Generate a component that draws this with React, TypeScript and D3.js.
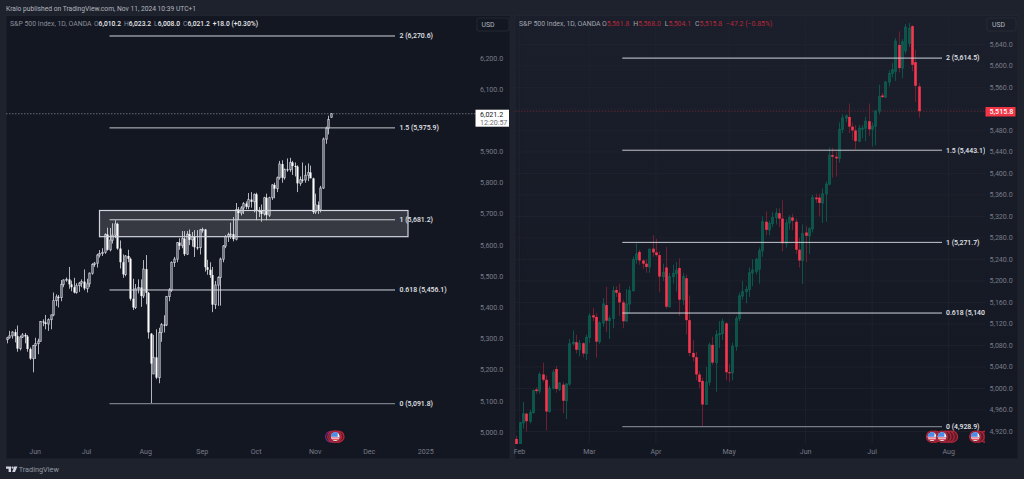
import React from 'react';
import * as d3 from 'd3';

const width = 1024;
const height = 479;
const font = 'Roboto, sans-serif';

// left chart, one entry per daily bar from May 17 to Nov 11
const leftOpen = [5297,5303,5309,5321,5308,5268,5305,5312,5307,5267,5236,5278,5284,5292,5355,5352,5347,5361,5376,5422,5434,5432,5474,5488,5490,5474,5465,5448,5470,5478,5483,5461,5476,5510,5538,5542,5568,5573,5577,5634,5585,5616,5632,5668,5589,5545,5506,5565,5556,5428,5400,5460,5464,5437,5523,5447,5316,5187,5240,5175,5320,5345,5344,5435,5456,5544,5555,5608,5598,5621,5571,5635,5617,5626,5593,5592,5649,5650,5529,5521,5504,5409,5472,5496,5555,5597,5627,5634,5635,5619,5714,5703,5719,5733,5723,5746,5739,5763,5709,5710,5700,5752,5696,5752,5793,5781,5816,5860,5816,5843,5842,5865,5854,5852,5798,5810,5809,5824,5833,5814,5706,5729,5713,5783,5940,5975,6010.2];
const leftHigh = [5306,5325,5324,5330,5342,5310,5318,5318,5312,5272,5280,5303,5300,5356,5362,5376,5365,5377,5448,5442,5440,5488,5490,5496,5530,5486,5495,5478,5482,5490,5522,5492,5512,5542,5546,5572,5584,5590,5638,5656,5655,5670,5680,5672,5615,5570,5568,5585,5560,5492,5475,5490,5490,5552,5568,5450,5318,5312,5330,5335,5350,5375,5437,5462,5548,5562,5610,5622,5645,5645,5645,5650,5642,5648,5648,5652,5656,5652,5553,5545,5530,5485,5500,5560,5600,5632,5640,5672,5690,5735,5722,5725,5738,5740,5767,5770,5765,5768,5722,5730,5755,5765,5755,5795,5800,5820,5870,5872,5845,5878,5880,5870,5865,5856,5820,5865,5855,5862,5855,5816,5765,5740,5790,5945,5980,6015,6023.2];
const leftLow = [5285,5300,5300,5288,5258,5262,5302,5285,5258,5232,5192,5235,5250,5290,5340,5330,5325,5330,5372,5405,5400,5420,5465,5482,5460,5452,5445,5444,5450,5465,5455,5448,5465,5505,5530,5528,5560,5565,5572,5582,5580,5605,5622,5585,5525,5495,5500,5545,5422,5392,5395,5445,5402,5430,5410,5300,5091.8,5190,5170,5157,5290,5320,5340,5420,5450,5530,5545,5585,5590,5565,5568,5600,5595,5562,5585,5570,5640,5515,5505,5495,5385,5395,5405,5406,5545,5590,5610,5620,5612,5615,5680,5695,5700,5715,5715,5720,5705,5680,5690,5675,5695,5680,5690,5745,5750,5770,5810,5800,5810,5835,5835,5825,5820,5770,5790,5800,5800,5805,5815,5700,5700,5700,5705,5780,5925,5955,6008];
const leftClose = [5303,5309,5321,5308,5268,5305,5312,5307,5267,5236,5278,5284,5292,5355,5352,5347,5361,5376,5422,5434,5432,5474,5488,5490,5474,5465,5448,5470,5478,5483,5461,5476,5510,5538,5542,5568,5573,5577,5634,5585,5616,5632,5668,5589,5545,5506,5565,5556,5428,5400,5460,5464,5437,5523,5447,5320,5220,5240,5175,5320,5345,5344,5435,5456,5544,5555,5608,5598,5621,5571,5635,5617,5626,5593,5592,5649,5650,5529,5521,5504,5409,5472,5496,5555,5597,5627,5634,5635,5619,5714,5703,5719,5733,5723,5746,5739,5763,5709,5710,5700,5752,5696,5752,5793,5781,5816,5860,5816,5843,5842,5865,5854,5852,5798,5810,5809,5824,5833,5814,5706,5729,5713,5783,5940,5975,6003,6021.2];

// right chart, one entry per daily bar from Jan 31 to Jul 19
const rightOpen = [4906,4880,4936,4953,4939,4955,4998,4995,5026,5016,4957,5000,5036,4998,5007,4977,5008,5083,5086,5072,5084,5065,5095,5136,5133,5087,5122,5155,5126,5130,5183,5178,5160,5125,5157,5182,5240,5254,5238,5232,5226,5260,5253,5248,5208,5225,5152,5208,5214,5224,5165,5205,5127,5066,5058,5026,5014,4970,5012,5081,5048,5100,5102,5121,5030,5029,5078,5130,5172,5180,5184,5215,5218,5222,5256,5310,5295,5307,5318,5326,5316,5270,5308,5318,5310,5258,5238,5290,5284,5297,5355,5355,5345,5362,5380,5434,5431,5428,5482,5503,5505,5487,5480,5460,5484,5484,5497,5482,5488,5516,5545,5542,5570,5586,5590,5639,5596,5628,5642,5674,5607,5561.8];
const rightHigh = [4912,4938,4975,4955,4960,4998,5002,5030,5048,5024,5005,5035,5042,5012,5012,5010,5092,5108,5100,5090,5086,5100,5140,5150,5140,5125,5168,5189,5135,5190,5190,5195,5165,5185,5190,5245,5270,5258,5240,5240,5260,5285,5278,5255,5232,5263,5215,5230,5235,5242,5215,5212,5173,5090,5068,5032,5020,5040,5085,5096,5108,5125,5130,5124,5045,5085,5135,5178,5200,5190,5225,5240,5243,5262,5320,5329,5312,5328,5335,5335,5350,5315,5322,5325,5316,5280,5305,5302,5300,5360,5362,5362,5372,5385,5448,5448,5440,5495,5510,5510,5530,5495,5490,5490,5490,5505,5530,5495,5518,5565,5550,5572,5592,5605,5652,5664,5650,5678,5680,5676,5630,5568];
const rightLow = [4880,4880,4925,4920,4935,4953,4990,4990,5012,4922,4955,4998,4992,4995,4954,4943,5005,5080,5065,5060,5058,5053,5085,5125,5057,5083,5115,5105,5092,5112,5170,5135,5112,5125,5140,5180,5232,5230,5222,5215,5215,5245,5245,5179,5200,5148,5150,5195,5180,5135,5155,5100,5060,5050,5015,5000,4928.9,4970,5005,5044,4994,5075,5090,5015,5012,5015,5070,5125,5165,5158,5170,5190,5212,5195,5245,5285,5285,5300,5305,5300,5255,5262,5295,5295,5250,5225,5194,5235,5250,5290,5345,5320,5308,5310,5378,5392,5394,5420,5475,5495,5475,5462,5445,5458,5465,5460,5470,5450,5452,5510,5540,5540,5562,5578,5572,5588,5577,5622,5635,5590,5533,5504.1];
const rightClose = [4880,4936,4953,4939,4955,4996,4995,5026,5016,4957,5000,5030,4999,5010,4977,5008,5083,5086,5072,5084,5065,5095,5135,5132,5087,5122,5157,5126,5130,5182,5178,5160,5125,5157,5182,5240,5250,5238,5232,5226,5259,5253,5248,5208,5216,5152,5208,5214,5220,5165,5208,5127,5066,5058,5026,5012,4970,5012,5081,5048,5100,5102,5125,5030,5029,5078,5130,5172,5180,5184,5215,5220,5240,5256,5310,5295,5307,5318,5326,5316,5270,5308,5318,5312,5258,5238,5288,5284,5297,5355,5352,5345,5362,5380,5434,5431,5428,5482,5503,5507,5487,5480,5460,5484,5484,5497,5482,5488,5516,5543,5542,5570,5586,5593,5646,5596,5645,5672,5670,5602,5563,5515.8];

const leftPriceTicks = [6200,6100,5900,5800,5700,5600,5500,5400,5300,5200,5100,5000];
const rightPriceTicks = [5640,5600,5560,5480,5440,5400,5360,5320,5280,5240,5200,5160,5120,5080,5040,5000,4960,4920];

const leftMonths = ['Jun','Jul','Aug','Sep','Oct','Nov','Dec','2025'];
const leftMonthBars = [11,31,54,76,97,120,141,163];
const rightMonths = ['Feb','Mar','Apr','May','Jun','Jul','Aug'];
const rightMonthBars = [1,22,42,64,87,107,130];

const leftFibLevels = ['2','1.5','1','0.618','0'];
const leftFibPrices = [6270.6,5975.9,5681.2,5456.1,5091.8];
const rightFibLevels = ['2','1.5','1','0.618','0'];
const rightFibPrices = [5614.5,5443.1,5271.7,5140.2,4928.9];
const fibColors = ['#d1d4dc','#c4c6cc','#c9cbd1','#d1d4dc','#787b86'];

const zoneTop = 5711;
const zoneBottom = 5627;

// event markers, placed by bar number
const leftRingBars = [127,128,129];
const leftFlagBars = [127];
const rightRingBars = [126,129,130,131,139,141];
const rightFlagBars = [125,128,138];

const fmt = d3.format(',.1f');

const leftX = d3.scaleLinear().domain([0, 126]).range([6.9, 330.7]);
const leftY = d3.scaleLinear().domain([5000, 6200]).range([432.2, 58]);
const rightX = d3.scaleLinear().domain([0, 121]).range([516.2, 918.7]);
const rightY = d3.scaleLinear().domain([4920, 5640]).range([431.4, 44.4]);

const Candles = ({ o, h, l, c, x, y, bodyWidth, upStroke, upFill, upWick, downFill, downWick }: any) => (
    <g>
        {o.map((open: number, i: number) => {
            const up = c[i] >= open;
            const top = y(Math.max(open, c[i]));
            const bot = y(Math.min(open, c[i]));
            const px = Math.round(x(i)) + 0.5;
            return (
                <g key={i}>
                    <line x1={px} x2={px} y1={y(h[i])} y2={y(l[i])} stroke={up ? upWick : downWick} strokeWidth={1} />
                    {up
                        ? <rect x={px - bodyWidth / 2} y={top} width={bodyWidth} height={Math.max(bot - top, 0.8)} fill={upFill} stroke={upStroke} strokeWidth={0.9} />
                        : <rect x={px - bodyWidth / 2 - 0.4} y={top} width={bodyWidth + 0.8} height={Math.max(bot - top, 1)} fill={downFill} />}
                </g>
            );
        })}
    </g>
);

const Flag = ({ cx, cy }: any) => (
    <g>
        <circle cx={cx} cy={cy} r={5.6} fill="#5a1a28" stroke="#b3263a" strokeWidth={1.3} />
        <circle cx={cx} cy={cy} r={4.4} fill="#f0f3fa" />
        <path d={`M${cx - 4} ${cy + 1.2}h8M${cx - 3.4} ${cy + 2.9}h6.8`} stroke="#e0485a" strokeWidth={1} />
        <path d={`M${cx - 4.4} ${cy}a4.4 4.4 0 0 1 4.4 -4.4h2.4v4.4z`} fill="#4a8be8" />
    </g>
);

const Rings = ({ xs, cy, color }: any) => (
    <g>
        {xs.map((cx: number, i: number) => (
            <circle key={i} cx={cx} cy={cy} r={5.6} fill="#5a1a28" stroke={color} strokeWidth={1.3} />
        ))}
    </g>
);

const PriceTicks = ({ ticks, y, x }: any) => (
    <g fontFamily={font} fontSize={7.1} fill="#787b86">
        {ticks.map((t: number) => <text key={t} x={x} y={y(t) + 2.5}>{fmt(t)}</text>)}
    </g>
);

const MonthLabels = ({ labels, bars, x }: any) => (
    <g fontFamily={font} fontSize={7.1} fill="#787b86" textAnchor="middle">
        {labels.map((m: string, i: number) => <text key={m} x={x(bars[i])} y={454}>{m}</text>)}
    </g>
);

const FibLines = ({ levels, prices, y, x1, x2, labelX, clipId }: any) => (
    <g>
        {prices.map((p: number, i: number) => (
            <line key={p} x1={x1} x2={x2} y1={y(p)} y2={y(p)} stroke={fibColors[i]} strokeWidth={i === 4 ? 1.3 : 1} />
        ))}
        <g clipPath={clipId} fontFamily={font} fontSize={6.9} fontWeight={500} fill="#e4e6eb">
            {prices.map((p: number, i: number) => (
                <text key={p} x={labelX} y={y(p) + 2.3}>{`${levels[i]} (${fmt(p)})`}</text>
            ))}
        </g>
    </g>
);

const App = () => {
    const ringY = 436.7;
    return (
        <svg width={width} height={height} viewBox={`0 0 ${width} ${height}`} style={{ position: 'fixed', left: 0, top: 0, display: 'block' }}>
            <defs>
                <linearGradient id="rightBg" x1="0" x2="0" y1="0" y2="1">
                    <stop offset="0" stopColor="#1b1f2b" />
                    <stop offset="1" stopColor="#131722" />
                </linearGradient>
                <clipPath id="leftPlot"><rect x={6} y={15} width={470} height={430} /></clipPath>
                <clipPath id="rightPlot"><rect x={515} y={15} width={470} height={429} /></clipPath>
                <clipPath id="rightLabels"><rect x={515} y={15} width={470} height={430} /></clipPath>
            </defs>
            <rect width={width} height={height} fill="#1e222d" />

            <text x={6} y={10.5} fontFamily={font} fontSize={6.7} fill="#b2b5be">Kralo published on TradingView.com, Nov 11, 2024 10:39 UTC+1</text>

            {/* left panel */}
            <rect x={6} y={15.5} width={504} height={443.5} fill="#131722" stroke="#262a35" strokeWidth={0.6} />
            <text x={10} y={25.6} fontFamily={font} fontSize={6.9} fill="#8a8d98">S&amp;P 500 Index, 1D, OANDA</text>
            <text x={94} y={25.6} fontFamily={font} fontSize={6.7} fill="#8a8d98" xmlSpace="preserve">
                O<tspan fill="#e8e9ec" fontWeight={500}>6,010.2</tspan>
                <tspan dx={3}>H</tspan><tspan fill="#e8e9ec" fontWeight={500}>6,023.2</tspan>
                <tspan dx={3}>L</tspan><tspan fill="#e8e9ec" fontWeight={500}>6,008.0</tspan>
                <tspan dx={3}>C</tspan><tspan fill="#e8e9ec" fontWeight={500}>6,021.2</tspan>
                <tspan dx={3} fill="#e8e9ec" fontWeight={500}>+18.0 (+0.30%)</tspan>
            </text>
            <rect x={477} y={18} width={32} height={13} rx={2} fill="#131722" stroke="#2a2e39" strokeWidth={0.8} />
            <text x={481.5} y={27} fontFamily={font} fontSize={6.9} fill="#b2b5be">USD</text>

            <g clipPath="url(#leftPlot)">
                <line x1={6} x2={476} y1={leftY(6021.2)} y2={leftY(6021.2)} stroke="#8d9099" strokeWidth={0.7} strokeDasharray="1.5 1.5" />
                <Candles o={leftOpen} h={leftHigh} l={leftLow} c={leftClose} x={leftX} y={leftY} bodyWidth={1.3}
                    upStroke="#d1d4dc" upFill="#131722" upWick="#b2b5be" downFill="#ffffff" downWick="#b2b5be" />
            </g>
            <FibLines levels={leftFibLevels} prices={leftFibPrices} y={leftY} x1={109.5} x2={395} labelX={399.5} />
            <rect x={99.5} y={leftY(zoneTop)} width={308.5} height={leftY(zoneBottom) - leftY(zoneTop)} fill="#ffffff" fillOpacity={0.15} stroke="#d1d4dc" strokeWidth={1.2} />
            <PriceTicks ticks={leftPriceTicks} y={leftY} x={480} />
            <rect x={475.5} y={109.7} width={33.5} height={17} fill="#ffffff" />
            <text x={480} y={116.5} fontFamily={font} fontSize={7.1} fill="#131722">{fmt(6021.2)}</text>
            <text x={480} y={124.5} fontFamily={font} fontSize={7.1} fill="#6a6d78">12:20:57</text>
            <MonthLabels labels={leftMonths} bars={leftMonthBars} x={leftX} />
            <circle cx={331} cy={ringY} r={5.4} fill="#131722" stroke="#6d2a8c" strokeWidth={1.2} />
            <Rings xs={leftRingBars.map(leftX).reverse()} cy={ringY} color="#b3263a" />
            {leftFlagBars.map(b => <Flag key={b} cx={leftX(b) + 2} cy={ringY} />)}

            {/* right panel */}
            <rect x={515} y={15.5} width={503} height={443.5} fill="url(#rightBg)" stroke="#262a35" strokeWidth={0.6} />
            <g stroke="#212531" strokeWidth={0.7}>
                {rightPriceTicks.concat(5520).map(t => <line key={t} x1={515} x2={985} y1={rightY(t)} y2={rightY(t)} />)}
                {rightMonthBars.map(b => <line key={b} x1={rightX(b)} x2={rightX(b)} y1={15.5} y2={444} />)}
            </g>
            <text x={519} y={25.6} fontFamily={font} fontSize={6.9} fill="#a0a3ad">S&amp;P 500 Index, 1D, OANDA</text>
            <text x={602} y={25.6} fontFamily={font} fontSize={6.9} fill="#a0a3ad" xmlSpace="preserve">
                O<tspan fill="#b5283a">5,561.8</tspan>
                <tspan dx={4}>H</tspan><tspan fill="#b5283a">5,568.0</tspan>
                <tspan dx={4}>L</tspan><tspan fill="#b5283a">5,504.1</tspan>
                <tspan dx={4}>C</tspan><tspan fill="#b5283a">5,515.8</tspan>
                <tspan dx={4} fill="#b5283a">−47.2 (−0.85%)</tspan>
            </text>
            <rect x={987} y={18} width={29} height={13} rx={2} fill="#1a1e2a" stroke="#2a2e39" strokeWidth={0.8} />
            <text x={992} y={27} fontFamily={font} fontSize={6.9} fill="#b2b5be">USD</text>

            <g clipPath="url(#rightPlot)">
                <line x1={515} x2={985} y1={rightY(5515.8)} y2={rightY(5515.8)} stroke="#7d2a38" strokeWidth={0.7} strokeDasharray="1.5 1.5" />
                <Candles o={rightOpen} h={rightHigh} l={rightLow} c={rightClose} x={rightX} y={rightY} bodyWidth={1.8}
                    upStroke="#0c5f52" upFill="none" upWick="#0c5449" downFill="#f7374f" downWick="#6e2030" />
                <Rings xs={rightRingBars.map(rightX).reverse()} cy={ringY} color="#b3263a" />
                {rightFlagBars.map(b => <Flag key={b} cx={rightX(b)} cy={ringY} />)}
            </g>
            <FibLines levels={rightFibLevels} prices={rightFibPrices} y={rightY} x1={622.3} x2={942} labelX={946} clipId="url(#rightLabels)" />
            <PriceTicks ticks={rightPriceTicks} y={rightY} x={989.5} />
            <rect x={985.5} y={107} width={30} height={9.5} fill="#f23645" />
            <text x={989.5} y={114.3} fontFamily={font} fontSize={7.1} fontWeight={500} fill="#ffffff">{fmt(5515.8)}</text>
            <MonthLabels labels={rightMonths} bars={rightMonthBars} x={rightX} />

            {/* footer logo */}
            <g fill="#d1d4dc">
                <path d="M6 466.5h5v5.4h-2.4v-3.2h-2.6z" />
                <circle cx={12.6} cy={467.6} r={1.1} />
                <path d="M14.2 466.5h3.2l-2.4 5.4h-2.8z" />
            </g>
            <text x={18.7} y={471.7} fontFamily={font} fontSize={7.3} fill="#9598a1">TradingView</text>
        </svg>
    );
};

export default App;
